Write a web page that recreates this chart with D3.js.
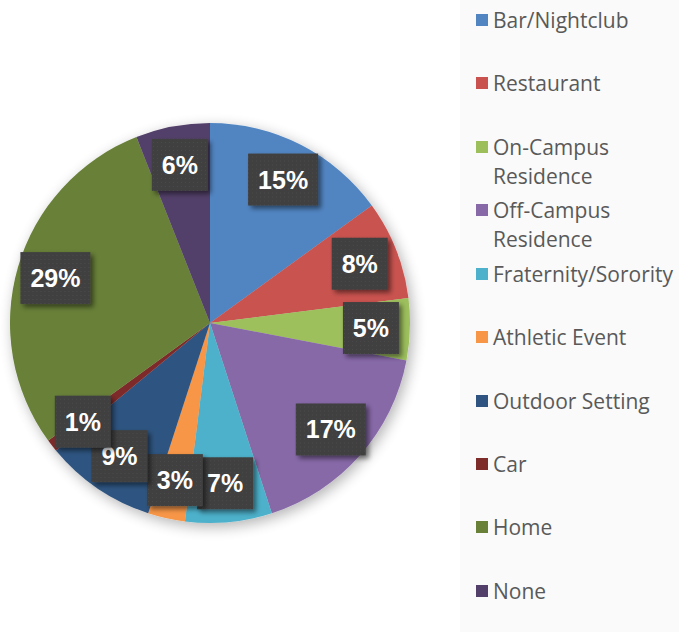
<!DOCTYPE html>
<html>
<head>
<meta charset="utf-8">
<script src="https://cdn.jsdelivr.net/npm/d3@7"></script>
<style>
  html, body { margin: 0; padding: 0; background: #fff; }
  svg { display: block; }
</style>
</head>
<body>
<div id="chart"></div>
<script>
const categories = ["Bar/Nightclub", "Restaurant", "On-Campus Residence", "Off-Campus Residence",
  "Fraternity/Sorority", "Athletic Event", "Outdoor Setting", "Car", "Home", "None"];
const legendLines = [["Bar/Nightclub"], ["Restaurant"], ["On-Campus", "Residence"], ["Off-Campus", "Residence"],
  ["Fraternity/Sorority"], ["Athletic Event"], ["Outdoor Setting"], ["Car"], ["Home"], ["None"]];
const values = [15, 8, 5, 17, 7, 3, 9, 1, 29, 6];
const colors = ["#5185c2", "#c9524f", "#9dbf5b", "#8769a8", "#4eb1cb", "#f79646", "#2f5481", "#7e2c2a", "#688038", "#53406a"];

const width = 679, height = 632;
const cx = 210, cy = 323, radius = 200;

const svg = d3.select("#chart").append("svg")
  .attr("width", width)
  .attr("height", height);

const defs = svg.append("defs");

// soft shadow for the pie
const pieShadow = defs.append("filter").attr("id", "pieShadow")
  .attr("x", "-20%").attr("y", "-20%").attr("width", "140%").attr("height", "140%");
pieShadow.append("feGaussianBlur").attr("in", "SourceAlpha").attr("stdDeviation", 7).attr("result", "b");
pieShadow.append("feOffset").attr("in", "b").attr("dx", 3).attr("dy", 4).attr("result", "o");
pieShadow.append("feComponentTransfer").attr("in", "o").attr("result", "s")
  .append("feFuncA").attr("type", "linear").attr("slope", 0.3);
const pm = pieShadow.append("feMerge");
pm.append("feMergeNode").attr("in", "s");
pm.append("feMergeNode").attr("in", "SourceGraphic");

// shadow for label boxes
const boxShadow = defs.append("filter").attr("id", "boxShadow")
  .attr("x", "-30%").attr("y", "-30%").attr("width", "160%").attr("height", "160%");
boxShadow.append("feGaussianBlur").attr("in", "SourceAlpha").attr("stdDeviation", 2.5).attr("result", "b");
boxShadow.append("feOffset").attr("in", "b").attr("dx", 3).attr("dy", 3).attr("result", "o");
boxShadow.append("feComponentTransfer").attr("in", "o").attr("result", "s")
  .append("feFuncA").attr("type", "linear").attr("slope", 0.5);
const bm = boxShadow.append("feMerge");
bm.append("feMergeNode").attr("in", "s");
bm.append("feMergeNode").attr("in", "SourceGraphic");

// dotted texture for label boxes
const pat = defs.append("pattern").attr("id", "dots")
  .attr("width", 4).attr("height", 4).attr("patternUnits", "userSpaceOnUse");
pat.append("rect").attr("width", 4).attr("height", 4).attr("fill", "#3f3f3f");
pat.append("rect").attr("x", 1).attr("y", 1).attr("width", 1).attr("height", 1).attr("fill", "#4c4c4c");

// legend panel background
svg.append("rect")
  .attr("x", 460).attr("y", 0)
  .attr("width", width - 460).attr("height", height)
  .attr("fill", "#fafafa");

const pie = d3.pie().sort(null).value(d => d);
const arcs = pie(values);
const arc = d3.arc().innerRadius(0).outerRadius(radius);
const labelArc = d3.arc().innerRadius(161).outerRadius(161);

const g = svg.append("g").attr("transform", `translate(${cx},${cy})`);

g.append("g").attr("filter", "url(#pieShadow)")
  .selectAll("path")
  .data(arcs)
  .join("path")
  .attr("d", arc)
  .attr("fill", (d, i) => colors[i]);

// data labels
const labels = g.selectAll(".lbl")
  .data(arcs)
  .join("g")
  .attr("class", "lbl")
  .attr("transform", d => {
    const [x, y] = labelArc.centroid(d);
    return `translate(${x},${y})`;
  });

labels.each(function(d) {
  const sel = d3.select(this);
  const txt = d.data + "%";
  const w = txt.length === 3 ? 70 : 56;
  const h = 52;
  sel.append("rect")
    .attr("x", -w / 2).attr("y", -h / 2)
    .attr("width", w).attr("height", h)
    .attr("fill", "url(#dots)")
    .attr("filter", "url(#boxShadow)");
  sel.append("text")
    .attr("text-anchor", "middle")
    .attr("dy", "0.36em")
    .style("font-family", "'Liberation Sans', Arial, sans-serif")
    .style("font-size", "25px")
    .style("font-weight", "bold")
    .style("fill", "#fff")
    .text(txt);
});

// legend
const legend = svg.append("g");
const legendY = [21, 84, 148, 211, 275, 338, 402, 465, 528, 592];
categories.forEach((c, i) => {
  const item = legend.append("g").attr("transform", `translate(476,${legendY[i]})`);
  item.append("rect")
    .attr("x", 0).attr("y", -7)
    .attr("width", 12).attr("height", 12)
    .attr("fill", colors[i]);
  legendLines[i].forEach((line, j) => {
    item.append("text")
      .attr("x", 17)
      .attr("y", j * 29)
      .attr("dy", "0.35em")
      .style("font-family", "'Open Sans', 'Noto Sans', sans-serif")
      .style("font-size", "21px")
      .style("fill", "#595959")
      .text(line);
  });
});
</script>
</body>
</html>
